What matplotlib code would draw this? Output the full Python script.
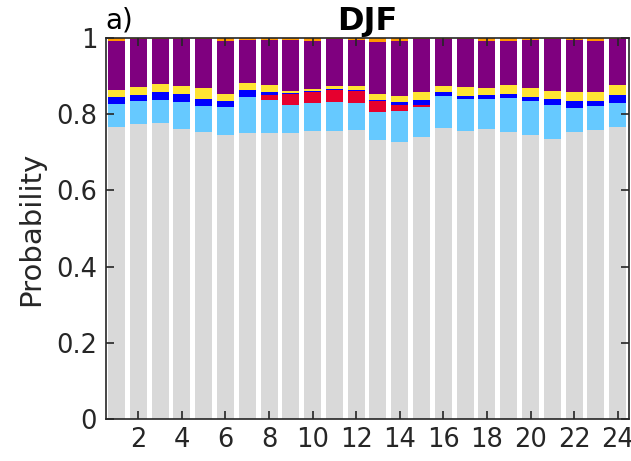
import numpy as np
import matplotlib
matplotlib.use('Agg')
import matplotlib.pyplot as plt

# hours 1..24, stacked probabilities (bottom to top)
hours = np.arange(1, 25)
gray = [0.767, 0.774, 0.778, 0.761, 0.754, 0.745, 0.750, 0.750, 0.750, 0.755, 0.755, 0.759,
        0.732, 0.726, 0.741, 0.763, 0.757, 0.761, 0.752, 0.746, 0.735, 0.754, 0.759, 0.766]
light_blue = [0.060, 0.060, 0.059, 0.072, 0.068, 0.073, 0.096, 0.088, 0.075, 0.074, 0.077, 0.070,
              0.073, 0.082, 0.079, 0.084, 0.082, 0.080, 0.091, 0.088, 0.088, 0.062, 0.062, 0.064]
red = [0.000, 0.000, 0.000, 0.000, 0.000, 0.000, 0.000, 0.012, 0.028, 0.030, 0.031, 0.033,
       0.029, 0.015, 0.005, 0.000, 0.000, 0.000, 0.000, 0.000, 0.000, 0.000, 0.000, 0.000]
blue = [0.018, 0.016, 0.020, 0.020, 0.019, 0.016, 0.017, 0.009, 0.002, 0.002, 0.002, 0.002,
        0.004, 0.008, 0.013, 0.010, 0.009, 0.009, 0.009, 0.012, 0.016, 0.018, 0.013, 0.020]
yellow = [0.019, 0.021, 0.021, 0.021, 0.027, 0.019, 0.018, 0.017, 0.005, 0.006, 0.009, 0.011,
          0.015, 0.018, 0.019, 0.018, 0.023, 0.020, 0.024, 0.023, 0.021, 0.023, 0.023, 0.026]
purple = [0.127, 0.127, 0.120, 0.124, 0.130, 0.138, 0.114, 0.120, 0.136, 0.126, 0.123, 0.121,
          0.137, 0.144, 0.140, 0.123, 0.126, 0.121, 0.117, 0.127, 0.138, 0.138, 0.134, 0.121]
orange = [0.009, 0.002, 0.002, 0.002, 0.002, 0.009, 0.005, 0.004, 0.004, 0.007, 0.003, 0.004,
          0.010, 0.007, 0.003, 0.002, 0.003, 0.009, 0.007, 0.004, 0.002, 0.005, 0.009, 0.003]

layers = [gray, light_blue, red, blue, yellow, purple, orange]
colors = ['#d9d9d9', '#66c9ff', '#e6002e', '#0000ff', '#ffe433', '#7f007f', '#ff9900']

txt = '#262626'
fig = plt.figure(figsize=(6.31, 4.61), dpi=100)
ax = fig.add_axes([0.1673, 0.0911, 0.8289, 0.8265])

bottom = np.zeros(len(hours))
for vals, c in zip(layers, colors):
    ax.bar(hours, vals, bottom=bottom, width=0.78, color=c, linewidth=0)
    bottom += np.array(vals)

ax.set_xlim(0.5, 24.5)
ax.set_ylim(0, 1)
ax.set_xticks(np.arange(2, 25, 2))
ax.set_yticks([0, 0.2, 0.4, 0.6, 0.8, 1])
ax.set_yticklabels(['0', '0.2', '0.4', '0.6', '0.8', '1'])
ax.tick_params(direction='in', top=True, right=True, length=6, width=1.2,
               labelsize=18.5, colors=txt, labelcolor=txt)
ax.tick_params(axis='y', pad=6)
ax.tick_params(axis='x', pad=6)
for s in ax.spines.values():
    s.set_color(txt)
    s.set_linewidth(1.2)
ax.set_ylabel('Probability', fontsize=21, color=txt, labelpad=8)
ax.set_title('DJF', fontsize=23, fontweight='bold', color='black', pad=6)
ax.text(0.0, 1.026, 'a)', transform=ax.transAxes, fontsize=20, color='black',
        ha='left', va='baseline')

fig.savefig('out.png', dpi=100)
plt.close(fig)
